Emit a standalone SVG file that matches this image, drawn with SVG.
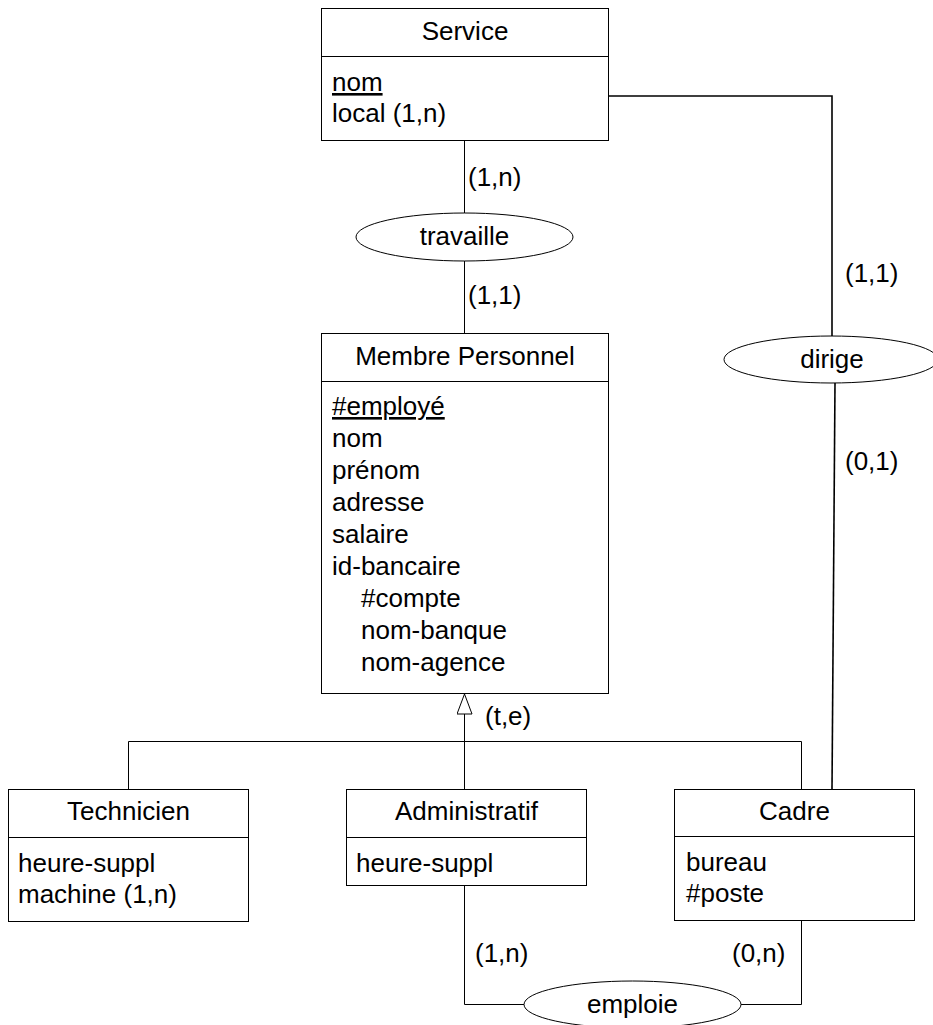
<svg xmlns="http://www.w3.org/2000/svg" width="933" height="1025" viewBox="0 0 933 1025">
<style>
  .box { fill: #fff; stroke: #000; stroke-width: 1; }
  .div { stroke: #000; stroke-width: 1; }
  .ell { fill: #fff; stroke: #000; stroke-width: 1; }
  .t { font-family: "Liberation Sans", Arial, sans-serif; font-size: 26px; fill: #000; }
  .c { text-anchor: middle; }
  .u { text-decoration: underline; }
  .ln { fill: none; stroke: #000; stroke-width: 1; }
  .lnb { fill: none; stroke: #000; stroke-width: 1.6; }
</style>
<defs>
  <marker id="tri" markerWidth="24" markerHeight="18" refX="21" refY="8" orient="auto" markerUnits="userSpaceOnUse">
    <path d="M21,8 L1,0.5 L1,15.5 Z" fill="#fff" stroke="#000" stroke-width="1"/>
  </marker>
</defs>
<rect width="933" height="1025" fill="#fff"/>

<g id="connectors">
  <!-- Service - travaille - Membre -->
  <path class="ln" d="M464.5,140 V213"/>
  <path class="ln" d="M464.5,261 V333"/>
  <!-- dirige -->
  <path class="lnb" d="M608,96 H832 V336"/>
  <path class="lnb" d="M835,383 L832,789"/>
  <!-- inheritance -->
  <path class="ln" d="M464.5,789 V694" marker-end="url(#tri)"/>
  <path class="ln" d="M128.5,789 V741.5 H801.5 V789"/>
  <!-- emploie -->
  <path class="ln" d="M464.5,885 V1004.5 H524"/>
  <path class="ln" d="M741,1004.5 H801.5 V920"/>
  <!-- cardinalities -->
  <text class="t" x="468" y="186">(1,n)</text>
  <text class="t" x="468" y="304">(1,1)</text>
  <text class="t" x="845" y="282">(1,1)</text>
  <text class="t" x="845" y="470">(0,1)</text>
  <text class="t" x="485" y="725">(t,e)</text>
  <text class="t" x="475" y="962">(1,n)</text>
  <text class="t" x="732" y="962">(0,n)</text>
</g>

<g id="service">
  <rect class="box" x="321.5" y="8.5" width="287" height="132"/>
  <line class="div" x1="321.5" y1="56.5" x2="608.5" y2="56.5"/>
  <text class="t c" x="465" y="40">Service</text>
  <text class="t u" x="332" y="91">nom</text>
  <text class="t" x="332" y="122">local (1,n)</text>
</g>

<g id="travaille">
  <ellipse class="ell" cx="464.5" cy="237" rx="108.5" ry="24"/>
  <text class="t c" x="464.5" y="245">travaille</text>
</g>

<g id="dirige">
  <ellipse class="ell" cx="831" cy="359.5" rx="107" ry="23.5"/>
  <text class="t c" x="832" y="368">dirige</text>
</g>

<g id="membre">
  <rect class="box" x="321.5" y="333.5" width="287" height="360"/>
  <line class="div" x1="321.5" y1="381.5" x2="608.5" y2="381.5"/>
  <text class="t c" x="465" y="365">Membre Personnel</text>
  <text class="t u" x="332" y="415">#employé</text>
  <text class="t" x="332" y="447">nom</text>
  <text class="t" x="332" y="479">prénom</text>
  <text class="t" x="332" y="511">adresse</text>
  <text class="t" x="332" y="543">salaire</text>
  <text class="t" x="332" y="575">id-bancaire</text>
  <text class="t" x="361" y="607">#compte</text>
  <text class="t" x="361" y="639">nom-banque</text>
  <text class="t" x="361" y="671">nom-agence</text>
</g>

<g id="technicien">
  <rect class="box" x="8.5" y="789.5" width="240" height="132"/>
  <line class="div" x1="8.5" y1="837.5" x2="248.5" y2="837.5"/>
  <text class="t c" x="128.5" y="820">Technicien</text>
  <text class="t" x="18" y="872">heure-suppl</text>
  <text class="t" x="18" y="903">machine (1,n)</text>
</g>

<g id="administratif">
  <rect class="box" x="346.5" y="789.5" width="240" height="96"/>
  <line class="div" x1="346.5" y1="837.5" x2="586.5" y2="837.5"/>
  <text class="t c" x="466.5" y="820">Administratif</text>
  <text class="t" x="356" y="872">heure-suppl</text>
</g>

<g id="cadre">
  <rect class="box" x="674.5" y="789.5" width="240" height="131"/>
  <line class="div" x1="674.5" y1="836.5" x2="914.5" y2="836.5"/>
  <text class="t c" x="794.5" y="820">Cadre</text>
  <text class="t" x="686" y="871">bureau</text>
  <text class="t" x="686" y="902">#poste</text>
</g>

<g id="emploie">
  <ellipse class="ell" cx="632.5" cy="1004.5" rx="108.5" ry="23.5"/>
  <text class="t c" x="632.5" y="1013">emploie</text>
</g>
</svg>
